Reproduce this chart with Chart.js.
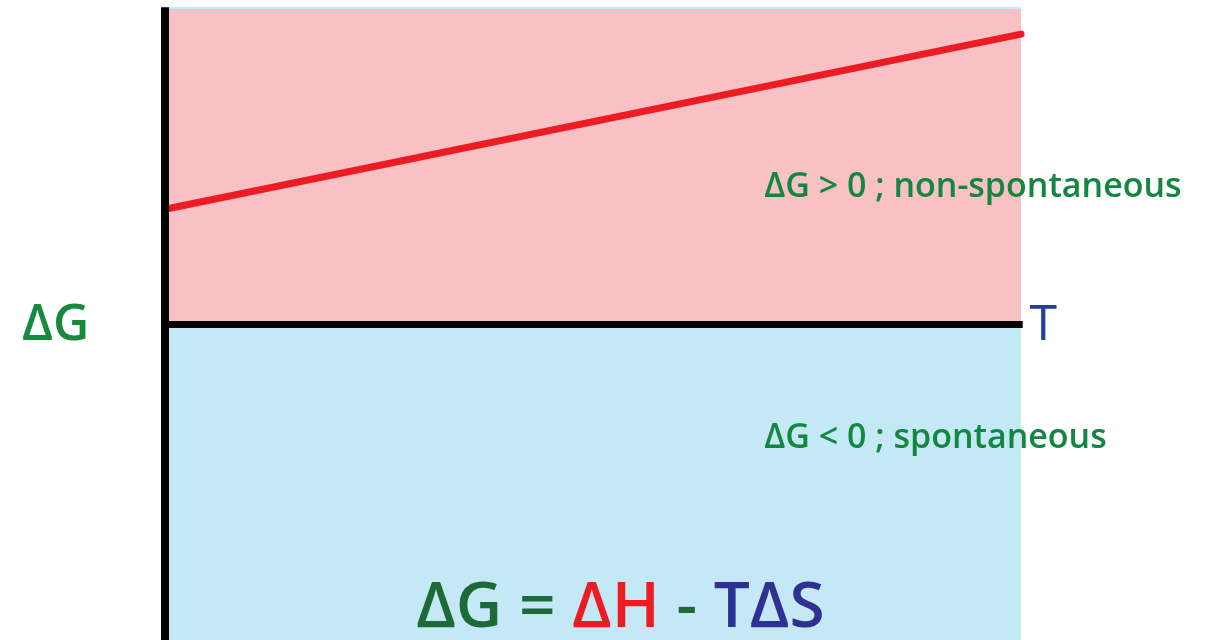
<!DOCTYPE html>
<html>
<head>
<meta charset="utf-8">
<title>Gibbs free energy vs T</title>
<script src="https://cdn.jsdelivr.net/npm/chart.js@4.4.0/dist/chart.umd.min.js"></script>
<style>
    body { margin: 0; background: #fff; }
    #wrap { width: 1207px; height: 640px; }
</style>
</head>
<body>
<div id="wrap"><canvas id="gibbs-chart"></canvas></div>
<script>
// temperature span and the dG line (end points)
const tempPoints = [0, 10];
const deltaGValues = [3.65, 9.2];
const yLimits = [-10, 10];

const axisTitles = ['ΔG', 'T'];
const regionLabels = ['ΔG > 0 ; non-spontaneous', 'ΔG < 0 ; spontaneous'];
const equationParts = ['ΔG', ' = ', 'ΔH', ' - ', 'TΔS'];
const equationColors = ['#1d6a38', '#1d6a38', '#ed1c24', '#1d6a38', '#2e3192'];

const FONT = '"Open Sans", "Noto Sans", sans-serif';

function pts(xs, ys) {
    return xs.map((x, i) => ({ x, y: ys[i] }));
}

// labels, axis names and the equation drawn on top
const textPlugin = {
    id: 'gibbsText',
    afterDatasetsDraw(chart) {
        const ctx = chart.ctx;
        const xs = chart.scales.x;
        const ys = chart.scales.y;
        ctx.save();
        ctx.textBaseline = 'middle';
        ctx.textAlign = 'left';

        ctx.fillStyle = '#138640';
        ctx.font = '600 34px ' + FONT;
        ctx.fillText(regionLabels[0], xs.getPixelForValue(7.0), ys.getPixelForValue(4.35));
        ctx.fillText(regionLabels[1], xs.getPixelForValue(7.0), ys.getPixelForValue(-3.6));

        ctx.font = '600 50px ' + FONT;
        ctx.fillStyle = '#178a40';
        ctx.fillText(axisTitles[0], 22, ys.getPixelForValue(-0.05));

        ctx.font = '500 50px ' + FONT;
        ctx.fillStyle = '#23409a';
        ctx.fillText(axisTitles[1], xs.getPixelForValue(10.1), ys.getPixelForValue(-0.05));

        // equation, each part in its own colour
        ctx.font = '600 64px ' + FONT;
        const widths = equationParts.map(p => ctx.measureText(p).width);
        const total = widths.reduce((a, b) => a + b, 0);
        let x = xs.getPixelForValue(5.32) - total / 2;
        const y = ys.getPixelForValue(-9.0);
        equationParts.forEach((p, i) => {
            ctx.fillStyle = equationColors[i];
            ctx.fillText(p, x, y);
            x += widths[i];
        });
        ctx.restore();
    }
};

function renderChart() {
    const ctx = document.getElementById('gibbs-chart').getContext('2d');
    const [t0, t1] = tempPoints;
    const [yMin, yMax] = yLimits;

    window.myChart = new Chart(ctx, {
        type: 'scatter',
        data: {
            datasets: [
                {   // red dG line
                    data: pts(tempPoints, deltaGValues),
                    showLine: true,
                    borderColor: '#ed1c24',
                    borderWidth: 7,
                    borderCapStyle: 'round',
                    pointRadius: 0,
                    order: 1
                },
                {   // horizontal T axis
                    data: pts([t0, t1 + 0.02], [0, 0]),
                    showLine: true,
                    borderColor: '#000',
                    borderWidth: 7,
                    pointRadius: 0,
                    order: 0
                },
                {   // vertical dG axis
                    data: pts([t0, t0], [yMin, yMax + 0.05]),
                    showLine: true,
                    borderColor: '#000',
                    borderWidth: 8,
                    pointRadius: 0,
                    order: 0
                },
                {   // pink: non-spontaneous region
                    data: pts([t0, t1], [yMax, yMax]),
                    showLine: true,
                    borderWidth: 0,
                    pointRadius: 0,
                    backgroundColor: '#f8c1c3',
                    fill: 'origin',
                    order: 3
                },
                {   // light blue: spontaneous region (also shows as thin edge round the pink)
                    data: pts([t0, t1 + 0.025], [yMax + 0.06, yMax + 0.06]),
                    showLine: true,
                    borderWidth: 0,
                    pointRadius: 0,
                    backgroundColor: '#c5e8f6',
                    fill: 'start',
                    order: 4
                }
            ]
        },
        options: {
            responsive: true,
            maintainAspectRatio: false,
            animation: false,
            clip: false,
            layout: { padding: { left: 165, right: 186, top: 7, bottom: 0 } },
            plugins: { legend: { display: false }, tooltip: { enabled: false } },
            scales: {
                x: { type: 'linear', min: t0, max: t1, display: false },
                y: { type: 'linear', min: yMin, max: yMax + 0.06, display: false }
            }
        },
        plugins: [textPlugin]
    });
}

window.onload = () => {
    renderChart();
};
</script>
</body>
</html>
